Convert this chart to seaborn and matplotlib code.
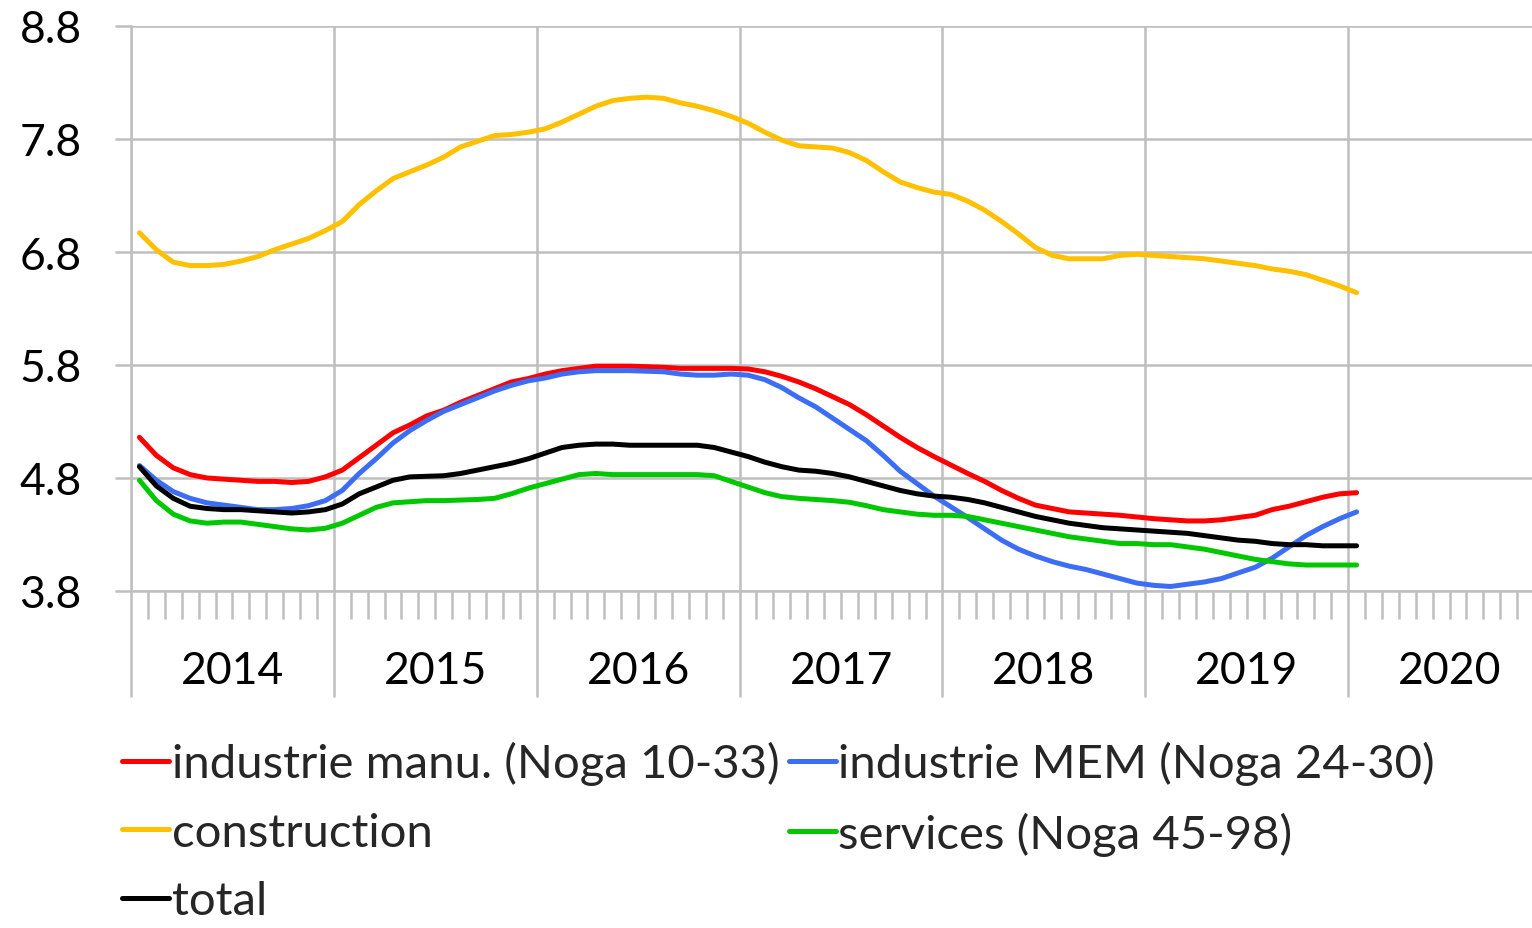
import numpy as np
import pandas as pd
import matplotlib
matplotlib.use("Agg")
import matplotlib.pyplot as plt
import matplotlib.transforms as mtransforms
from matplotlib.ticker import FixedLocator, NullFormatter
import seaborn as sns

# ---------------- data (monthly, Jan 2014 - Jan 2020) ----------------
months = pd.date_range("2014-01-01", periods=73, freq="MS")

industrie_manu = [5.16, 5.00, 4.89, 4.83, 4.80, 4.79, 4.78, 4.77, 4.77, 4.76, 4.77, 4.81,
                  4.87, 4.98, 5.09, 5.20, 5.27, 5.35, 5.40, 5.47, 5.53, 5.59, 5.65, 5.68,
                  5.72, 5.75, 5.77, 5.79, 5.79, 5.79, 5.785, 5.78, 5.77, 5.77, 5.77, 5.77,
                  5.765, 5.74, 5.70, 5.65, 5.59, 5.52, 5.45, 5.36, 5.26, 5.16, 5.07, 4.99,
                  4.915, 4.84, 4.77, 4.69, 4.62, 4.56, 4.53, 4.50, 4.49, 4.48, 4.47, 4.455,
                  4.44, 4.43, 4.42, 4.42, 4.43, 4.45, 4.47, 4.52, 4.55, 4.59, 4.63, 4.66,
                  4.67]
industrie_mem = [4.91, 4.78, 4.68, 4.62, 4.58, 4.56, 4.54, 4.52, 4.52, 4.53, 4.555, 4.60,
                 4.69, 4.84, 4.97, 5.11, 5.22, 5.31, 5.39, 5.45, 5.51, 5.57, 5.62, 5.66,
                 5.685, 5.72, 5.74, 5.75, 5.75, 5.75, 5.745, 5.74, 5.72, 5.71, 5.71, 5.72,
                 5.71, 5.67, 5.60, 5.51, 5.43, 5.33, 5.23, 5.13, 5.00, 4.86, 4.75, 4.64,
                 4.545, 4.45, 4.35, 4.25, 4.17, 4.11, 4.06, 4.02, 3.99, 3.95, 3.91, 3.87,
                 3.85, 3.84, 3.86, 3.88, 3.91, 3.96, 4.01, 4.09, 4.19, 4.29, 4.37, 4.44,
                 4.50]
construction = [6.97, 6.82, 6.71, 6.68, 6.68, 6.69, 6.72, 6.76, 6.82, 6.87, 6.92, 6.99,
                7.07, 7.22, 7.34, 7.45, 7.51, 7.57, 7.64, 7.73, 7.78, 7.83, 7.84, 7.86,
                7.89, 7.95, 8.02, 8.09, 8.14, 8.16, 8.17, 8.16, 8.12, 8.09, 8.05, 8.00,
                7.94, 7.86, 7.79, 7.74, 7.73, 7.72, 7.68, 7.61, 7.51, 7.42, 7.37, 7.33,
                7.31, 7.25, 7.17, 7.07, 6.96, 6.84, 6.77, 6.74, 6.74, 6.74, 6.77, 6.78,
                6.77, 6.76, 6.75, 6.74, 6.72, 6.70, 6.68, 6.65, 6.63, 6.60, 6.55, 6.50,
                6.44]
services = [4.78, 4.60, 4.48, 4.42, 4.40, 4.41, 4.41, 4.39, 4.37, 4.35, 4.34, 4.355,
            4.40, 4.47, 4.54, 4.58, 4.59, 4.60, 4.60, 4.605, 4.61, 4.62, 4.66, 4.71,
            4.75, 4.79, 4.83, 4.84, 4.83, 4.83, 4.83, 4.83, 4.83, 4.83, 4.82, 4.77,
            4.72, 4.67, 4.635, 4.62, 4.61, 4.60, 4.585, 4.555, 4.52, 4.50, 4.48, 4.47,
            4.47, 4.46, 4.43, 4.40, 4.37, 4.34, 4.31, 4.28, 4.26, 4.24, 4.22, 4.22,
            4.21, 4.21, 4.19, 4.17, 4.14, 4.11, 4.08, 4.06, 4.04, 4.03, 4.03, 4.03,
            4.03]
total = [4.90, 4.73, 4.62, 4.55, 4.53, 4.52, 4.52, 4.51, 4.50, 4.49, 4.50, 4.52,
         4.57, 4.66, 4.72, 4.78, 4.81, 4.815, 4.82, 4.84, 4.87, 4.90, 4.93, 4.97,
         5.02, 5.07, 5.09, 5.10, 5.10, 5.09, 5.09, 5.09, 5.09, 5.09, 5.07, 5.03,
         4.99, 4.94, 4.90, 4.87, 4.86, 4.84, 4.81, 4.77, 4.73, 4.69, 4.66, 4.64,
         4.63, 4.61, 4.58, 4.54, 4.50, 4.46, 4.43, 4.40, 4.38, 4.36, 4.35, 4.34,
         4.33, 4.32, 4.31, 4.29, 4.27, 4.25, 4.24, 4.22, 4.21, 4.21, 4.20, 4.20,
         4.20]

series_names = ["industrie manu. (Noga 10-33)", "industrie MEM (Noga 24-30)",
                "construction", "services (Noga 45-98)", "total"]
series_values = [industrie_manu, industrie_mem, construction, services, total]
series_colors = ["#FF0000", "#3C6DF5", "#FFC000", "#00C800", "#000000"]

y_ticks = [3.8, 4.8, 5.8, 6.8, 7.8, 8.8]
year_labels = ["2014", "2015", "2016", "2017", "2018", "2019", "2020"]

# ---------------- build long-form frame ----------------
month_pos = np.arange(len(months)) + 0.5   # centre of each monthly category
frames = []
for name, vals in zip(series_names, series_values):
    frames.append(pd.DataFrame({"x": month_pos, "value": vals, "series": name}))
df = pd.concat(frames, ignore_index=True)

# ---------------- style ----------------
sns.set_theme(style="white")
plt.rcParams["font.family"] = ["Lato", "DejaVu Sans"]
GRID = "#BFBFBF"
FS = 32
LW = 3.6

W, H = 1532, 929
fig = plt.figure(figsize=(W / 100, H / 100), dpi=100)
# axis spans 7 years (2014-2020); right part is cropped by the figure edge
left_px, right_px, top_px, bottom_px = 131, 1551, 27, 592
ax = fig.add_axes([left_px / W, 1 - bottom_px / H,
                   (right_px - left_px) / W, (bottom_px - top_px) / H])

sns.lineplot(data=df, x="x", y="value", hue="series", hue_order=series_names,
             palette=dict(zip(series_names, series_colors)), linewidth=LW,
             ax=ax, legend=False, sort=False)
for ln in ax.lines:
    ln.set_solid_capstyle("round")
    ln.set_solid_joinstyle("round")

n_years = len(year_labels)
ax.set_xlim(0, 12 * n_years)
ax.set_ylim(y_ticks[0], y_ticks[-1])
ax.set_xlabel("")
ax.set_ylabel("")

# y axis
ax.set_yticks(y_ticks)
ax.set_yticklabels([f"{v:.1f}" for v in y_ticks], fontsize=FS, color="#000000")
ax.tick_params(axis="y", which="major", left=True, length=11.5, width=1.8,
               color=GRID, pad=24)
ax.yaxis.grid(True, color=GRID, linewidth=1.8)

# x axis: year boundaries (major, long) and months (minor)
ax.xaxis.set_major_locator(FixedLocator(np.arange(0, 12 * n_years + 1, 12)))
ax.xaxis.set_minor_locator(FixedLocator(np.arange(0, 12 * n_years + 1, 1)))
ax.xaxis.set_major_formatter(NullFormatter())
ax.tick_params(axis="x", which="major", bottom=True, length=76, width=1.8, color=GRID)
ax.tick_params(axis="x", which="minor", bottom=True, length=20, width=1.8, color=GRID)
ax.xaxis.grid(True, which="major", color=GRID, linewidth=1.8)

for s in ["top", "right"]:
    ax.spines[s].set_visible(False)
for s in ["left", "bottom"]:
    ax.spines[s].set_color(GRID)
    ax.spines[s].set_linewidth(1.8)
ax.set_axisbelow(True)

# year labels centred between boundaries
trans = mtransforms.blended_transform_factory(ax.transData, ax.transAxes)
for k, lab in enumerate(year_labels):
    ax.text(12 * k + 6, -0.14, lab, transform=trans, ha="center", va="center",
            fontsize=FS, color="#000000")

# legend (column-major order so rows read: manu | MEM, construction | services, total)
handles = [plt.Line2D([], [], color=c, linewidth=LW) for c in series_colors]
order = [0, 2, 4, 1, 3]
leg = fig.legend([handles[i] for i in order], [series_names[i] for i in order],
                 loc="upper left", bbox_to_anchor=(122 / W, 1 - 742 / H),
                 ncol=2, frameon=False, fontsize=34, handlelength=1.0,
                 handletextpad=0.05, columnspacing=0.2, labelspacing=0.56,
                 borderpad=0, borderaxespad=0)

fig.savefig("out.png", dpi=100)
